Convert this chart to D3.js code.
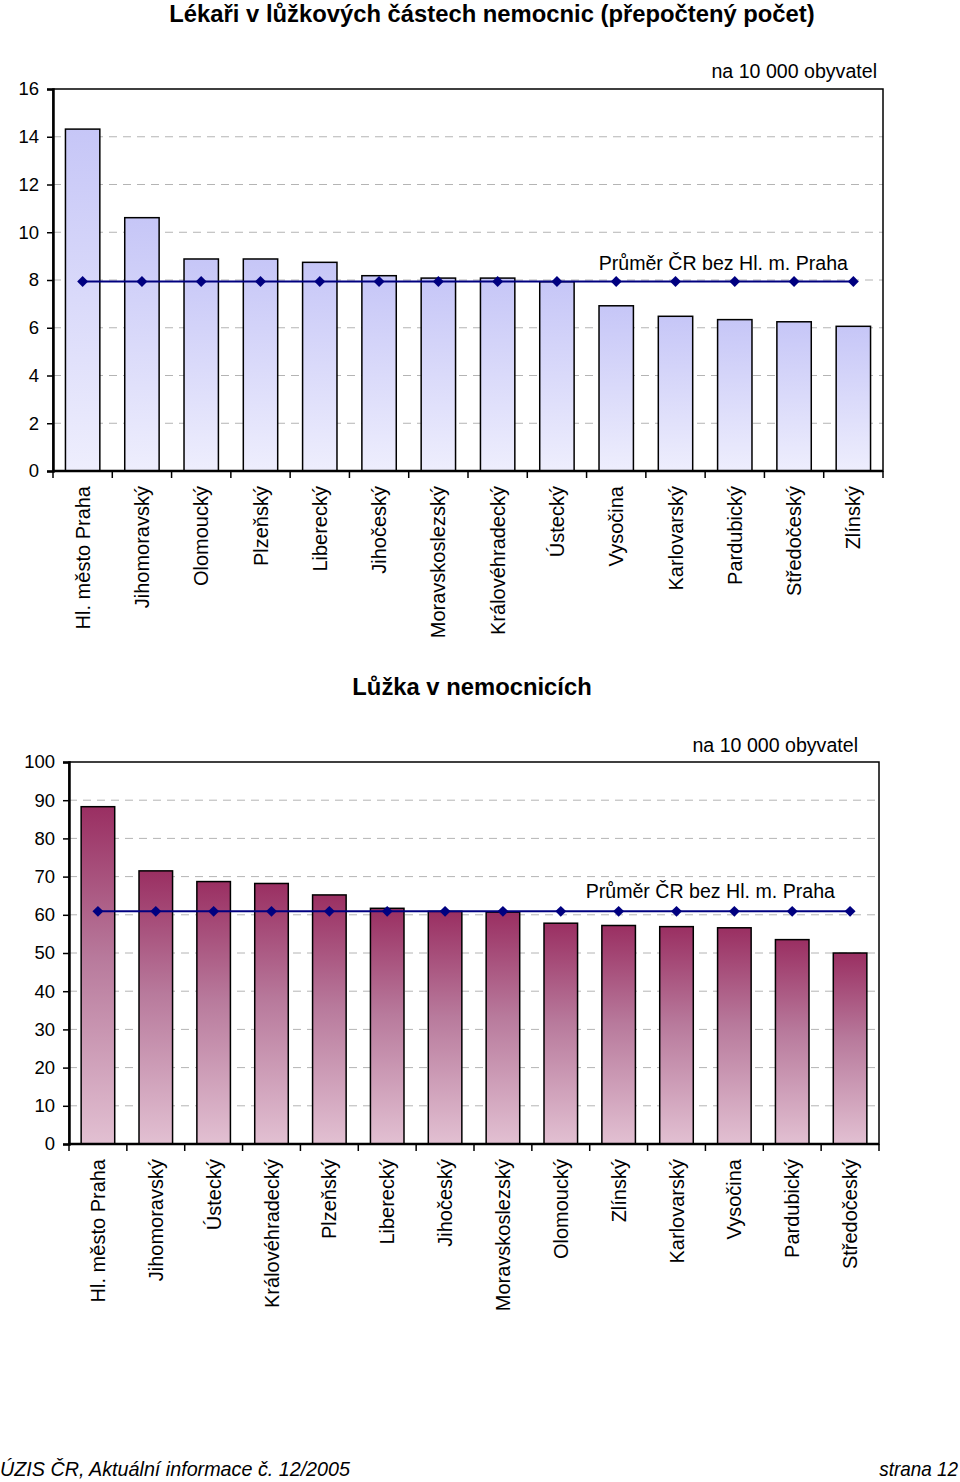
<!DOCTYPE html>
<html><head><meta charset="utf-8">
<script src="https://cdn.jsdelivr.net/npm/d3@7"></script>
<style>
body{margin:0;background:#fff;}
svg{display:block;font-family:"Liberation Sans",Arial,sans-serif;}
</style></head>
<body>
<svg id="c" width="960" height="1482"></svg>
<script>
// ---- data ----
const doctorsRegions = ["Hl. město Praha","Jihomoravský","Olomoucký","Plzeňský","Liberecký","Jihočeský","Moravskoslezský","Královéhradecký","Ústecký","Vysočina","Karlovarský","Pardubický","Středočeský","Zlínský"];
const doctorsValues = [14.32,10.61,8.88,8.88,8.74,8.18,8.08,8.08,7.93,6.92,6.48,6.34,6.25,6.06];
const doctorsAverage = 7.94;
const doctorsTicks = [0,2,4,6,8,10,12,14,16];

const bedsRegions = ["Hl. město Praha","Jihomoravský","Ústecký","Královéhradecký","Plzeňský","Liberecký","Jihočeský","Moravskoslezský","Olomoucký","Zlínský","Karlovarský","Vysočina","Pardubický","Středočeský"];
const bedsValues = [88.3,71.5,68.7,68.2,65.2,61.7,60.9,60.7,57.8,57.2,56.9,56.6,53.5,50.0];
const bedsAverage = 60.9;
const bedsTicks = [0,10,20,30,40,50,60,70,80,90,100];

const svg = d3.select("#c");
const defs = svg.append("defs");
const g1 = defs.append("linearGradient").attr("id","gBlue").attr("x1",0).attr("y1",0).attr("x2",0).attr("y2",1);
g1.append("stop").attr("offset","0%").attr("stop-color","#c6c6f7");
g1.append("stop").attr("offset","100%").attr("stop-color","#eeeefd");
const g2 = defs.append("linearGradient").attr("id","gRed").attr("x1",0).attr("y1",0).attr("x2",0).attr("y2",1);
g2.append("stop").attr("offset","0%").attr("stop-color","#9a2f62");
g2.append("stop").attr("offset","45%").attr("stop-color","#b87a9c");
g2.append("stop").attr("offset","100%").attr("stop-color","#e2c0d2");

function chart(cfg){
  const {left,right,top,bottom,cats,vals,avg,ticks,max,fill,title,titleX,titleY,unitX,unitY,avgLabelX,avgLabelY,labFont} = cfg;
  const x = d3.scaleBand().domain(cats).range([left,right]).paddingInner(0.42).paddingOuter(0.21);
  const xs = d3.scaleBand().domain(cats).range([left,right]);
  const y = d3.scaleLinear().domain([0,max]).range([bottom,top]);
  const g = svg.append("g");
  // grid
  g.selectAll(".grid").data(ticks.filter(t=>t>0 && t<max)).enter().append("line")
    .attr("x1",left).attr("x2",right).attr("y1",d=>y(d)).attr("y2",d=>y(d))
    .attr("stroke","#b4b4b4").attr("stroke-width",1).attr("stroke-dasharray","8,6");
  // bars
  g.selectAll(".bar").data(vals).enter().append("rect")
    .attr("x",(d,i)=>x(cats[i])).attr("width",x.bandwidth())
    .attr("y",d=>y(d)).attr("height",d=>bottom-y(d))
    .attr("fill",fill).attr("stroke","#000").attr("stroke-width",1.5);
  // frame
  g.append("rect").attr("x",left).attr("y",top).attr("width",right-left).attr("height",bottom-top)
    .attr("fill","none").attr("stroke","#000").attr("stroke-width",1.5);
  // y axis
  const ya = g.append("g").attr("transform",`translate(${left},0)`)
    .call(d3.axisLeft(y).tickValues(ticks).tickSize(6).tickPadding(8).tickFormat(d3.format("d")));
  ya.select(".domain").attr("stroke-width",2.5);
  ya.selectAll(".tick line").attr("stroke-width",1.5);
  ya.selectAll("text").attr("font-size",18.5).attr("fill","#000").attr("font-family","Liberation Sans, Arial, sans-serif");
  // x axis
  const xa = g.append("g").attr("transform",`translate(0,${bottom})`);
  xa.append("line").attr("x1",left).attr("x2",right).attr("stroke","#000").attr("stroke-width",2.5);
  const bounds = cats.map(c=>xs(c)).concat([right]);
  xa.selectAll(".xt").data(bounds).enter().append("line")
    .attr("x1",d=>d).attr("x2",d=>d).attr("y1",0).attr("y2",7).attr("stroke","#000").attr("stroke-width",1.5);
  xa.selectAll(".xl").data(cats).enter().append("text")
    .attr("transform",d=>`translate(${xs(d)+xs.bandwidth()/2},${15}) rotate(-90)`)
    .attr("text-anchor","end").attr("dy","0.35em").attr("font-size",labFont).text(d=>d);
  // average line
  const lineData = cats.map(c=>[x(c)+x.bandwidth()/2, y(avg)]);
  g.append("path").attr("d",d3.line()(lineData)).attr("fill","none").attr("stroke","#000080").attr("stroke-width",2);
  g.selectAll(".mk").data(lineData).enter().append("path")
    .attr("transform",d=>`translate(${d[0]},${d[1]}) rotate(45)`)
    .attr("d",d3.symbol().type(d3.symbolSquare).size(60)).attr("fill","#000080");
  // texts
  svg.append("text").attr("x",titleX).attr("y",titleY).attr("text-anchor","middle").attr("font-weight","bold").attr("font-size",23.8).text(title);
  svg.append("text").attr("x",unitX).attr("y",unitY).attr("text-anchor","end").attr("font-size",19.6).text("na 10 000 obyvatel");
  svg.append("text").attr("x",avgLabelX).attr("y",avgLabelY).attr("text-anchor","end").attr("font-size",19.6).text("Průměr ČR bez Hl. m. Praha");
}

chart({left:53,right:883,top:89,bottom:471,cats:doctorsRegions,vals:doctorsValues,avg:doctorsAverage,ticks:doctorsTicks,max:16,
  fill:"url(#gBlue)",title:"Lékaři v lůžkových částech nemocnic (přepočtený počet)",titleX:492,titleY:22,unitX:877,unitY:78,avgLabelX:848,avgLabelY:270,labFont:20});
chart({left:69,right:879,top:762,bottom:1144,cats:bedsRegions,vals:bedsValues,avg:bedsAverage,ticks:bedsTicks,max:100,
  fill:"url(#gRed)",title:"Lůžka v nemocnicích",titleX:472,titleY:695,unitX:858,unitY:752,avgLabelX:835,avgLabelY:898,labFont:20});

svg.append("text").attr("x",0).attr("y",1476).attr("font-style","italic").attr("font-size",21)
  .attr("textLength",350).attr("lengthAdjust","spacingAndGlyphs")
  .attr("font-family","Liberation Sans Narrow, Liberation Sans, Arial, sans-serif").text("ÚZIS ČR, Aktuální informace č. 12/2005");
svg.append("text").attr("x",958).attr("y",1476).attr("text-anchor","end").attr("font-style","italic").attr("font-size",21)
  .attr("transform","translate(958,0) scale(0.9,1) translate(-958,0)")
  .attr("font-family","Liberation Sans Narrow, Liberation Sans, Arial, sans-serif").text("strana 12");
</script>
</body></html>
